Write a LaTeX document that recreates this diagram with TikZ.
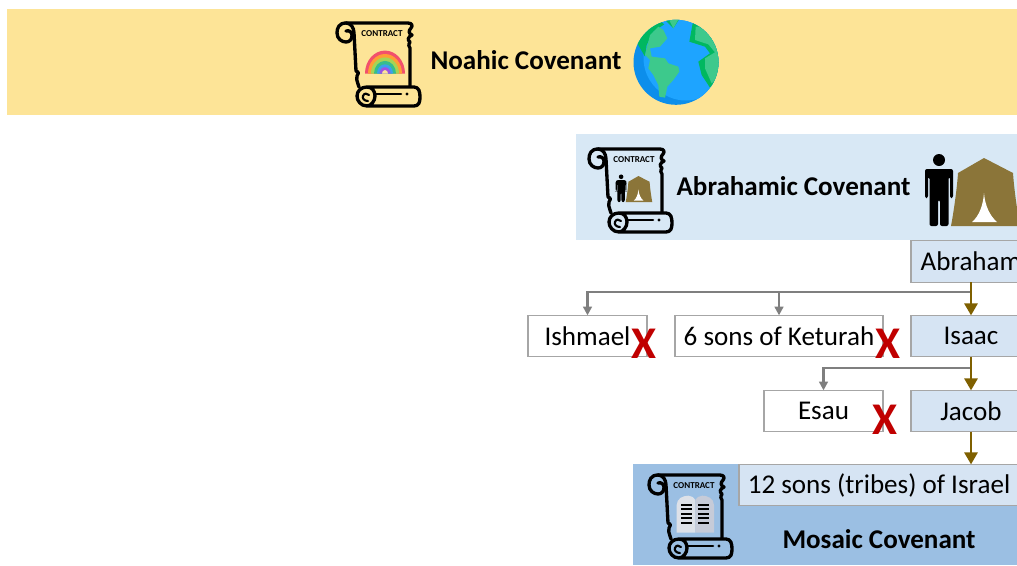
\documentclass[tikz,border=0pt]{standalone}
\usepackage{fontspec}
\setmainfont{Carlito}
\usetikzlibrary{arrows.meta,calc}
\definecolor{bandyellow}{HTML}{FDE497}
\definecolor{bandlight}{HTML}{D8E8F5}
\definecolor{bandblue}{HTML}{9BBFE3}
\definecolor{boxfill}{HTML}{D6E4F3}
\definecolor{boxline}{HTML}{A6A6A6}
\definecolor{brownline}{HTML}{7F6000}
\definecolor{grayline}{HTML}{7F7F7F}
\definecolor{tentc}{HTML}{8B7539}
\definecolor{crossred}{HTML}{C00000}
\definecolor{seablue}{HTML}{1EA4FF}
\definecolor{seadark}{HTML}{0C8EEB}
\definecolor{landlight}{HTML}{3DC98C}
\definecolor{landdark}{HTML}{00B860}
\definecolor{tabletl}{HTML}{DDE1E8}
\definecolor{tabletr}{HTML}{C6CBD8}
\tikzset{
  x=0.75pt,y=-0.75pt,
  personbox/.style={draw=boxline,line width=0.9pt,minimum height=31pt,inner sep=0pt,outer sep=0pt,font=\fontsize{20.3}{24}\selectfont,text=black},
  whitebox/.style={personbox,fill=white},
  bluebox/.style={personbox,fill=boxfill},
  lineage/.style={draw=brownline,line width=1.6pt,-{Triangle[length=9pt,width=10pt]}},
  rejected/.style={draw=grayline,line width=1.7pt,-{Triangle[length=6.5pt,width=6.5pt]}},
  heading/.style={font=\fontsize{20.3}{24}\selectfont\bfseries,text=black,inner sep=0pt},
  cross/.style={font=\fontsize{34}{34}\selectfont\bfseries,text=crossred,inner sep=0pt},
  contracttext/.style={font=\fontsize{6.8}{7}\selectfont\bfseries,text=black,inner sep=0pt},
  scrollline/.style={draw=black,line width=2.5pt,line cap=round,line join=round},
}
\newcommand{\scrollat}[3]{%
\begin{scope}[shift={(#1,#2)}]
  \path[scrollline]
    (10,1) -- (72,1) .. controls (76,1) and (77,4) .. (75,6)
    .. controls (72,9) and (73,12) .. (76,13) .. controls (72,15) and (71,18) .. (74,20)
    .. controls (72,23) and (73,25) .. (74,26) -- (74,64);
  \path[scrollline]
    (10,1) .. controls (3,1) and (1,6) .. (1,11) .. controls (1,17) and (6,20) .. (10,20)
    .. controls (14,20) and (16,17) .. (16,13) .. controls (16,10) and (13,8) .. (10,9);
  \path[scrollline]
    (10,1) .. controls (15,1) and (18,6) .. (18,11)
    -- (20,49) .. controls (23,50) and (23,52) .. (21,54)
    .. controls (20,56) and (21,59) .. (22,62) -- (23,65);
  \path[scrollline]
    (31,65) -- (78,65) .. controls (83,65) and (84,70) .. (84,75)
    .. controls (84,80) and (83,84) .. (78,84) -- (31,84)
    .. controls (25,84) and (21,79) .. (21,74)
    .. controls (21,69) and (25,65) .. (31,65)
    .. controls (36,65) and (39,69) .. (39,74)
    .. controls (39,79) and (35,84) .. (31,84);
  \path[scrollline,line width=1.6pt]
    (32,79) .. controls (28,79) and (26,76) .. (27,74) .. controls (28,71) and (31,71) .. (33,73);
  \path[scrollline,line width=1.9pt] (40,72) -- (65,72);
  \fill (71,72) circle (1.6);
  \node[contracttext] (#3) at (46,12) {CONTRACT};
\end{scope}}
\newcommand{\persontent}[3]{%
\begin{scope}[shift={(#1,#2)},scale=#3]
  \fill[tentc] (59,0) -- (33,15) .. controls (32,30) and (29,52) .. (26,68) -- (95,68)
     .. controls (92,52) and (89,30) .. (88,15) -- cycle;
  \fill[white] (59,35) .. controls (58,48) and (54,58) .. (47,64) -- (72,64)
     .. controls (65,58) and (60,48) .. (59,35) -- cycle;
  \fill[black] (14,2) circle (6);
  \fill[black,rounded corners=1.5pt] (0,11) -- (28,11) -- (28,40) -- (25,40) -- (25,19) -- (23.5,19)
     -- (23.5,68) -- (15,68) -- (15,42) -- (13,42) -- (13,68) -- (4.5,68) -- (4.5,19) -- (3,19) -- (3,40) -- (0,40) -- cycle;
\end{scope}}
\begin{document}
\begin{tikzpicture}
\useasboundingbox (0,0) rectangle (1017,565);
\clip (0,0) rectangle (1017,565);
\fill[white] (0,0) rectangle (1017,565);
% bands
\fill[bandyellow] (7,9) rectangle (1017,115);
\fill[bandlight] (576,134) rectangle (1017,240);
\fill[bandblue] (633,464) rectangle (1017,565);
% Noahic
\scrollat{336}{22}{contractN}
\begin{scope}[shift={(385,73.5)}]
  \foreach \r/\c in {20/F2506C,17/FF9E35,14/A5D455,11/35BE8C,8/3BA0EC,5.5/9C55E0}{
    \definecolor{rb}{HTML}{\c}
    \fill[rb] (-\r,0) arc[start angle=180,end angle=0,x radius=\r*0.75pt,y radius=\r*0.86pt] -- cycle;
  }
  \fill[bandyellow] (-3,0) arc[start angle=180,end angle=0,x radius=2.25pt,y radius=2.6pt] -- cycle;
\end{scope}
\node[heading] (noahic) at (526,60.5) {Noahic Covenant};
% Earth
\begin{scope}
  \clip (676,62.3) circle (42.5);
  \fill[seadark] (630,15) rectangle (722,110);
  \fill[seablue] (686,58) circle (42.5);
  \begin{scope}[shift={(630,15)},scale=1/3]
    \fill[landdark] (22,85) -- (45,125) -- (50,90) -- (70,50) -- (103,28) -- (85,15) -- (40,40) -- cycle;
    \fill[landlight] (45,120) -- (60,135) -- (55,160) -- (70,180) -- (85,210) -- (88,245) -- (105,248) -- (112,215) -- (130,195) -- (148,170) -- (145,155) -- (115,145) -- (105,130) -- (65,125) -- (60,100) -- (90,95) -- (112,70) -- (100,45) -- (85,35) -- (60,60) -- cycle;
    \fill[landdark] (108,18) -- (130,40) -- (148,12) -- cycle;
    \fill[landlight] (118,16) -- (130,40) -- (145,14) -- cycle;
    \fill[landdark] (188,25) -- (178,80) -- (225,95) -- (240,115) -- (205,140) -- (215,180) -- (240,218) -- (280,170) -- (270,110) -- (240,60) -- (210,30) -- cycle;
    \fill[landlight] (197,35) -- (195,75) -- (235,88) -- (255,112) -- (225,130) -- (225,160) -- (245,205) -- (280,170) -- (270,110) -- (240,60) -- (210,35) -- cycle;
  \end{scope}
\end{scope}
% Abrahamic
\scrollat{588}{148}{contractA}
\persontent{615.7}{176}{0.385}
\node[heading] (abrahamic) at (793.5,186) {Abrahamic Covenant};
\persontent{925}{158}{1}
% person boxes
\node[bluebox,minimum width=90pt] (abraham) at (971,261.5) {Abraham};
\node[bluebox,minimum width=90pt] (isaac) at (971,336) {Isaac};
\node[bluebox,minimum width=90pt] (jacob) at (971,411) {Jacob};
\node[whitebox,minimum width=89.25pt] (ishmael) at (587.5,336) {Ishmael};
\node[whitebox,minimum width=156pt] (keturah) at (779,336) {6 sons of Keturah};
\node[whitebox,minimum width=89.25pt] (esau) at (823.5,411) {Esau};
% Mosaic
\scrollat{648}{474}{contractM}
\begin{scope}[shift={(625,430)},scale=1/3]
  \fill[tabletl] (155,308) -- (155,225) .. controls (155,205) and (175,197) .. (190,197) .. controls (200,197) and (208,203) .. (211,210) -- (211,308) -- cycle;
  \fill[tabletr] (267,308) -- (267,225) .. controls (267,205) and (247,197) .. (232,197) .. controls (222,197) and (214,203) .. (211,210) -- (211,308) -- cycle;
  \foreach \yy in {225,238,251,265,280}{
    \fill[black] (168,\yy-3) rectangle (200,\yy+3);
    \fill[black] (220,\yy-3) rectangle (252,\yy+3);
  }
\end{scope}
\node[bluebox,minimum width=210pt] (tribes) at (879,485) {12 sons (tribes) of Israel};
\node[heading] (mosaic) at (879,539) {Mosaic Covenant};
% junctions
\coordinate (splitA) at ($(abraham.south)+(0,10)$);
\coordinate (splitB) at ($(isaac.south)+(0,11)$);
% connectors
\draw[rejected] (splitA) -| (ishmael.north);
\draw[rejected] (splitA -| keturah.north) -- (keturah.north);
\draw[rejected] (splitB) -| (esau.north);
\draw[lineage] (abraham) -- (isaac);
\draw[lineage] (isaac) -- (jacob);
\draw[lineage] (jacob) -- (jacob.south |- tribes.north);
% crosses
\node[cross] (xa) at (643.5,344) {X};
\node[cross] (xb) at (888,344) {X};
\node[cross] (xc) at (885,420) {X};
\end{tikzpicture}
\end{document}
